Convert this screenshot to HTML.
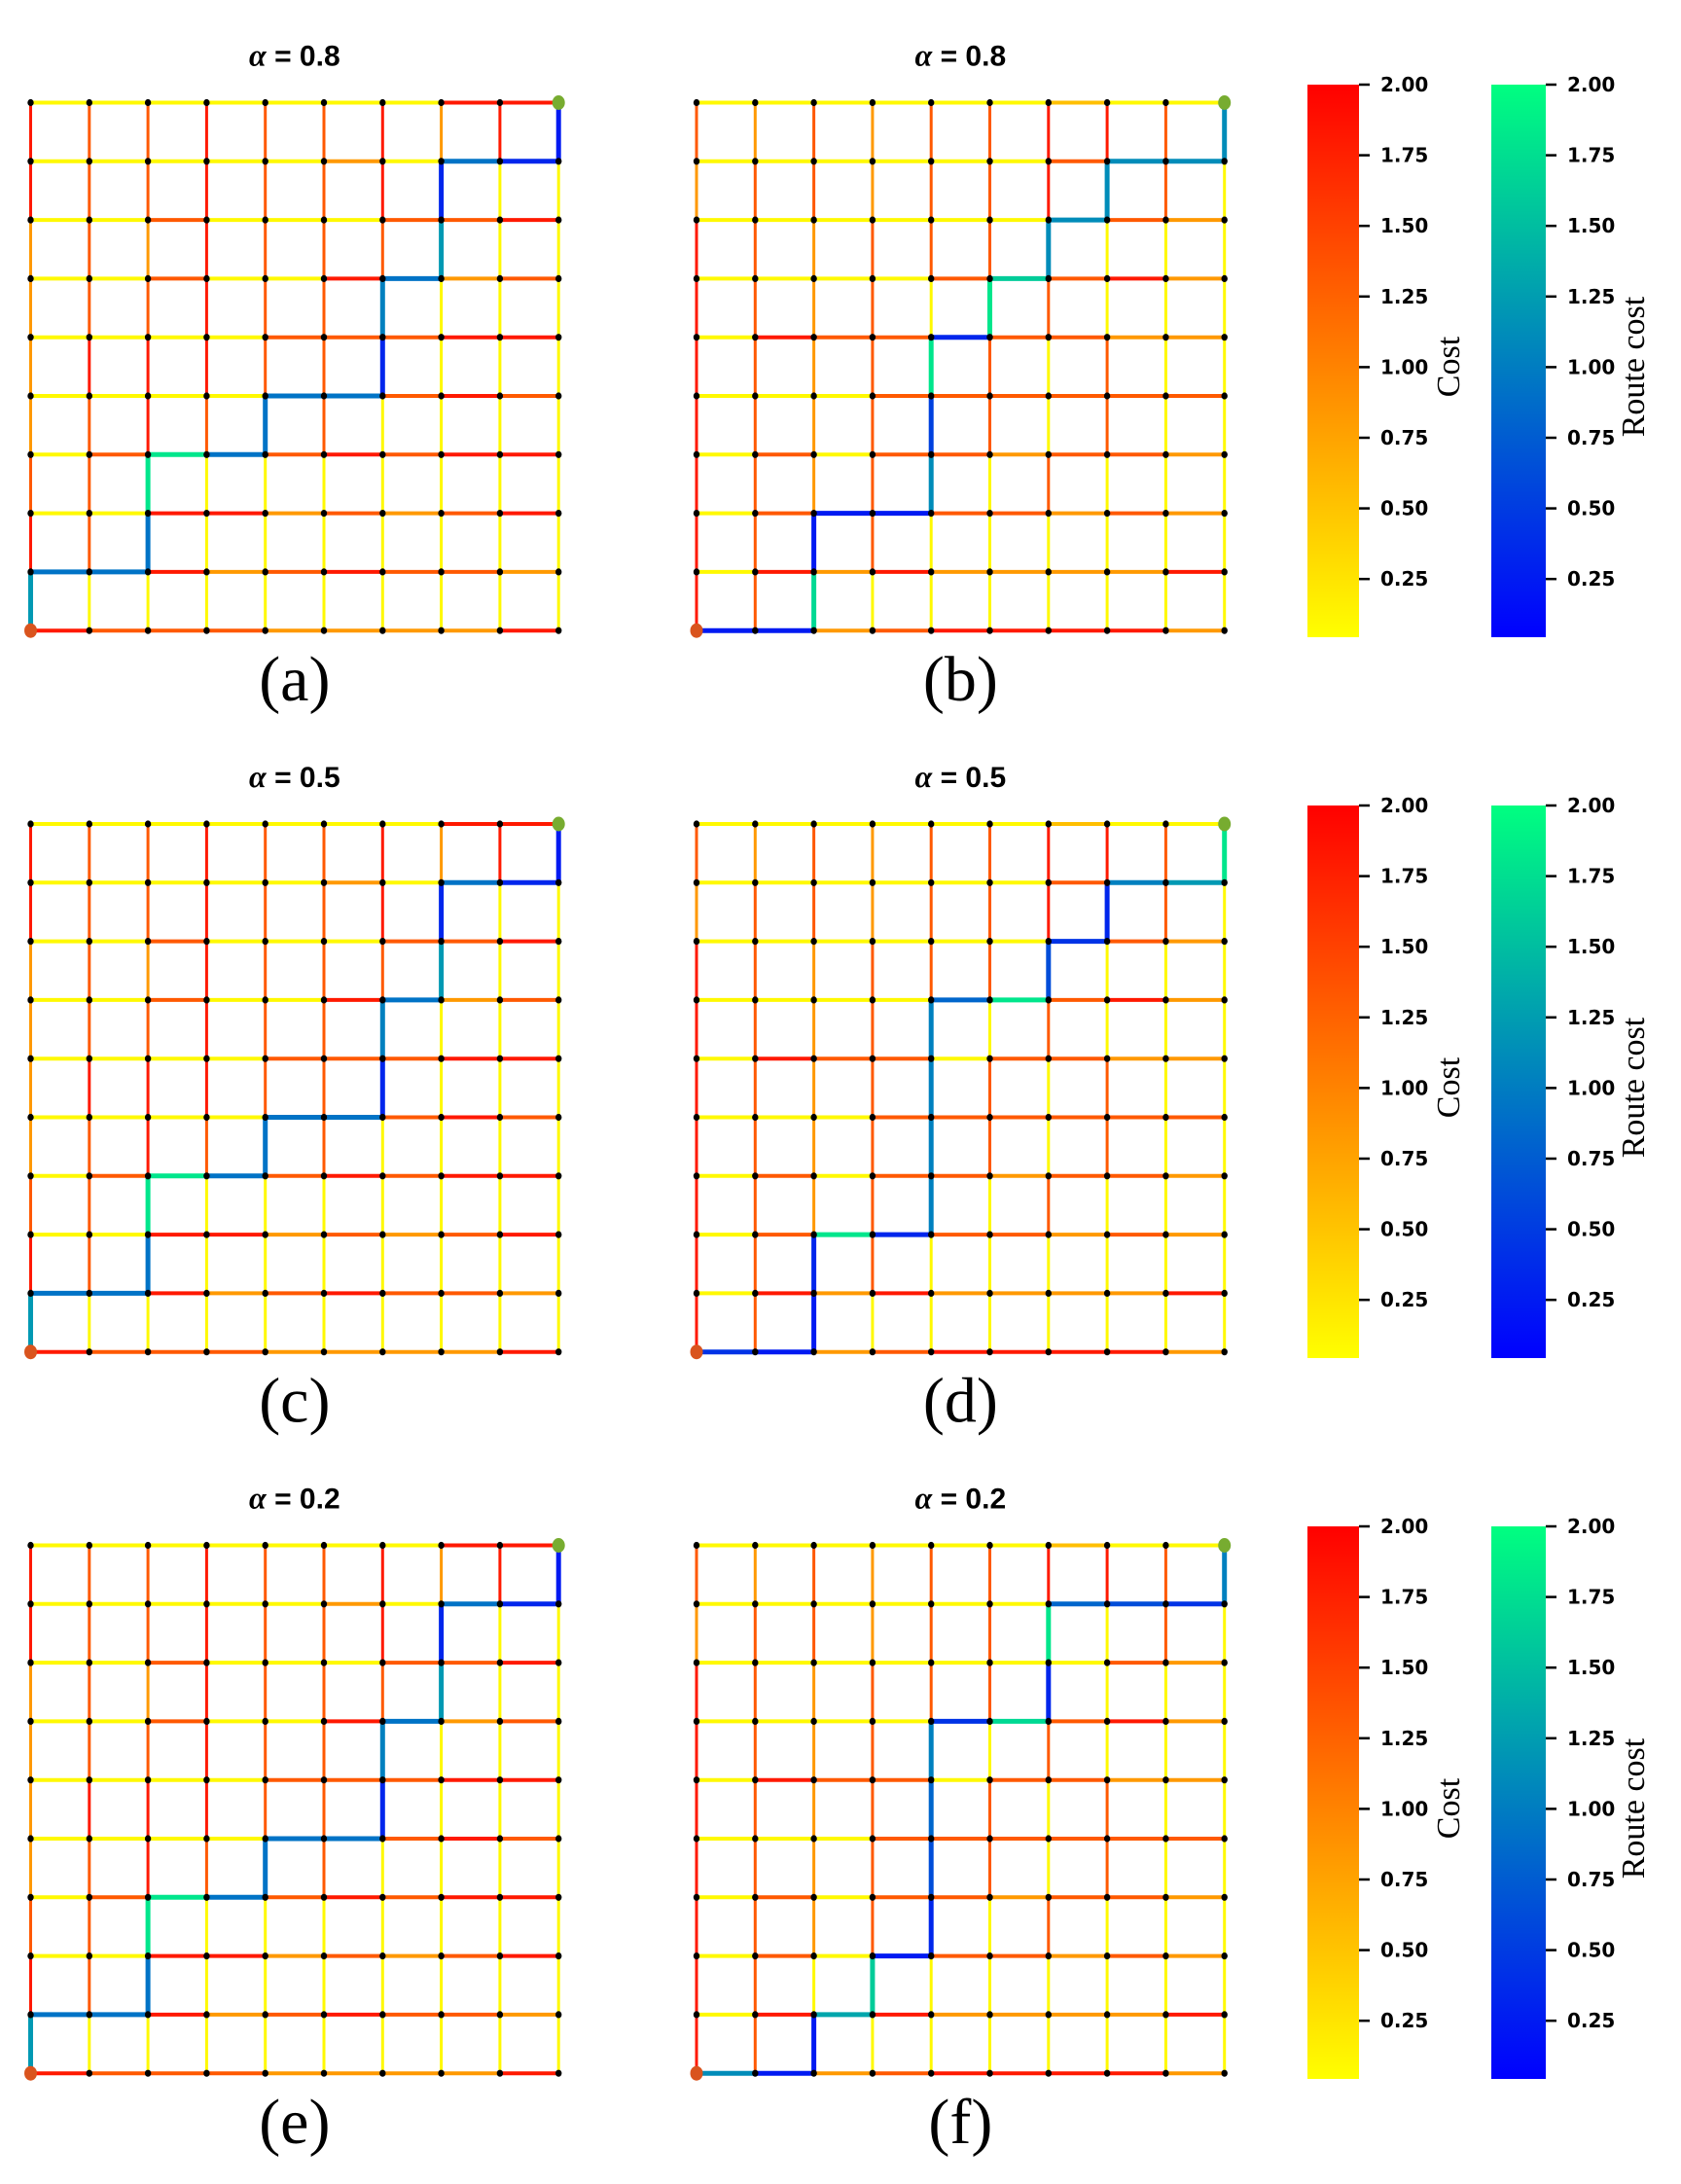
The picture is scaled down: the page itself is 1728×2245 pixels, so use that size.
<!DOCTYPE html>
<html><head><meta charset="utf-8"><style>
html,body{margin:0;padding:0;background:#fff;}
svg{display:block;}
</style></head><body>
<svg id="fig" width="1728" height="2245" viewBox="0 0 1728 2245" xmlns="http://www.w3.org/2000/svg">
<defs>
<linearGradient id="gCost" x1="0" y1="1" x2="0" y2="0">
<stop offset="0" stop-color="#ffff00"/><stop offset="0.5" stop-color="#ff8000"/><stop offset="1" stop-color="#ff0000"/></linearGradient>
<linearGradient id="gRoute" x1="0" y1="1" x2="0" y2="0">
<stop offset="0" stop-color="#0000ff"/><stop offset="1" stop-color="#00ff80"/></linearGradient>
</defs>
</svg>
<script>
// ---- data ----
const alphas = ["0.8","0.8","0.5","0.5","0.2","0.2"];
const panelLabels = ["(a)","(b)","(c)","(d)","(e)","(f)"];
const cbTicks = [0.25,0.5,0.75,1.0,1.25,1.5,1.75,2.0];
const cbTickLabels = ["0.25","0.50","0.75","1.00","1.25","1.50","1.75","2.00"];
const leftH = [
[.05,.05,.05,.05,.05,.05,.05,1.8,1.8],
[.05,.05,.05,.05,.05,.8,.05,.05,.05],
[.05,.05,1.3,.05,.05,.05,1.3,1.3,1.8],
[.05,.05,1.3,.05,.05,1.8,.05,.8,1.3],
[.05,.05,.05,.05,1.3,1.3,1.3,1.8,1.8],
[.05,.05,.05,.05,.05,.05,1.3,1.8,1.3],
[.05,1.3,.05,.05,1.3,1.8,1.3,1.8,1.8],
[.05,.05,1.8,1.8,.8,1.3,.8,1.3,1.8],
[.05,.05,1.8,.8,1.3,1.8,1.3,1.3,.8],
[1.8,1.3,1.3,1.3,.8,.8,.8,.8,1.8]];
const leftV = [
[1.8,1.3,1.3,1.8,1.3,1.3,1.8,.8,1.8,.05],
[1.8,1.3,1.3,1.8,1.3,1.3,1.8,.05,.05,.05],
[.8,1.3,.8,1.8,1.3,1.3,1.3,.05,.05,.05],
[.8,1.3,1.3,1.8,1.3,1.3,.05,.05,.05,.05],
[.8,1.8,1.8,1.8,1.3,1.3,.05,.05,.05,.05],
[.8,1.3,1.8,1.3,.05,1.3,.05,.05,.05,.05],
[1.3,1.3,.05,.05,.05,.05,.05,.05,.05,.05],
[1.8,1.3,.05,.05,.05,.05,.05,.05,.05,.05],
[.05,.05,.05,.05,.05,.05,.05,.05,.05,.05]];
const rightH = [
[.05,.05,.05,.05,.05,.05,.5,.05,.05],
[.05,.05,.05,.05,.05,.05,1.3,.05,.05],
[.05,.05,.05,.05,.05,.05,.05,1.3,.8],
[.05,.05,.05,.05,1.3,.05,1.3,1.8,.8],
[.05,1.8,1.3,1.3,.05,1.3,1.3,.8,.8],
[.05,.05,.05,1.3,1.3,1.3,1.3,1.3,1.3],
[.05,1.3,.05,1.3,1.3,.8,1.3,1.3,.8],
[.05,1.3,.05,.05,1.3,1.3,.8,1.3,.8],
[.05,1.8,.8,1.8,.8,.8,.8,.8,1.8],
[.05,.05,.8,1.3,1.8,1.8,1.8,1.8,.8]];
const rightV = [
[1.3,.8,1.3,.8,1.3,1.3,1.8,1.8,1.3,.05],
[.8,1.3,1.3,.8,1.3,1.3,1.8,.05,1.3,.05],
[1.8,1.3,.8,1.3,1.3,1.3,.05,.05,.05,.05],
[1.8,1.3,.8,1.3,.05,.05,1.3,.05,.05,.05],
[1.8,1.3,.8,1.3,.05,1.3,.05,1.3,.05,.05],
[1.8,1.3,.8,1.3,.05,1.3,.05,1.3,.05,.05],
[1.8,1.3,.8,1.3,.05,.05,1.3,.05,.05,.05],
[1.8,1.3,.05,1.3,.05,.05,.05,.05,.05,.05],
[1.8,1.3,.05,.05,.05,.05,.05,.05,.05,.05]];
const routeA = [["v",8,0,1.2],["h",8,0,0.9],["h",8,1,0.9],["v",7,2,0.9],["v",6,2,1.8],["h",6,2,1.8],["h",6,3,0.9],["v",5,4,0.9],["h",5,4,0.9],["h",5,5,0.9],["v",4,6,0.3],["v",3,6,1.0],["h",3,6,0.9],["v",2,7,1.2],["v",1,7,0.3],["h",1,7,0.9],["h",1,8,0.3],["v",0,9,0.2]];
const routeB = [["h",9,0,0.2],["h",9,1,0.2],["v",8,2,1.7],["v",7,2,0.2],["h",7,2,0.2],["h",7,3,0.2],["v",6,4,1.1],["v",5,4,0.5],["v",4,4,1.8],["h",4,4,0.3],["v",3,5,1.8],["h",3,5,1.6],["v",2,6,1.1],["h",2,6,1.1],["v",1,7,1.1],["h",1,7,1.1],["h",1,8,1.1],["v",0,9,1.1]];
const routeC = routeA;
const routeD = [["h",9,0,0.4],["h",9,1,0.2],["v",8,2,0.2],["v",7,2,0.3],["h",7,2,1.8],["h",7,3,0.3],["v",6,4,1.0],["v",5,4,1.0],["v",4,4,1.0],["v",3,4,1.0],["h",3,4,0.8],["h",3,5,1.8],["v",2,6,0.6],["h",2,6,0.4],["v",1,7,0.3],["h",1,7,1.0],["h",1,8,1.2],["v",0,9,1.8]];
const routeE = routeA;
const routeF = [["h",9,0,1.1],["h",9,1,0.2],["v",8,2,0.2],["h",8,2,1.3],["v",7,3,1.6],["h",7,3,0.2],["v",6,4,0.3],["v",5,4,0.6],["v",4,4,0.8],["v",3,4,1.0],["h",3,4,0.4],["h",3,5,1.7],["v",2,6,0.3],["v",1,6,1.8],["h",1,6,0.8],["h",1,7,0.6],["h",1,8,0.4],["v",0,9,1.0]];
const routes = [routeA,routeB,routeC,routeD,routeE,routeF];

// ---- layout ----
const svg = document.getElementById('fig');
const NS = 'http://www.w3.org/2000/svg';
const colX = [31.5, 716];
const rowY = [105.5, 847, 1588.5];
const step = 60.3;
const cbTop = [87, 828, 1569], cbH = 568;
function costColor(v){const t=Math.max(0,Math.min(1,v/2));return `rgb(255,${Math.round(255*(1-t))},0)`;}
function routeColor(v){const t=Math.max(0,Math.min(1,v/2));return `rgb(0,${Math.round(255*t)},${Math.round(255*(1-t/2))})`;}
function mk(tag, attrs){const e=document.createElementNS(NS,tag);for(const k in attrs)e.setAttribute(k,attrs[k]);return e;}
function cbY(top,v){return top+cbH-(v-0.044)/(2-0.044)*cbH;}

for(let p=0;p<6;p++){
  const col=p%2,row=Math.floor(p/2);
  const x0=colX[col],y0=rowY[row];
  const H=col===0?leftH:rightH, V=col===0?leftV:rightV;
  const g=mk('g',{});
  
  
  svg.appendChild(g);
  const px=c=>x0+c*step, py=r=>y0+r*step;
  for(let r=0;r<9;r++)for(let c=0;c<10;c++){
    const l=mk('line',{x1:px(c),y1:py(r),x2:px(c),y2:py(r+1),stroke:costColor(V[r][c]),'stroke-width':3});
    
    
    g.appendChild(l);
  }
  for(let r=0;r<10;r++)for(let c=0;c<9;c++){
    const l=mk('line',{x1:px(c),y1:py(r),x2:px(c+1),y2:py(r),stroke:costColor(H[r][c]),'stroke-width':4});
    
    
    g.appendChild(l);
  }
  for(const e of routes[p]){
    const [t,r,c,v]=e;
    const a=t==='h'?{x1:px(c),y1:py(r),x2:px(c+1),y2:py(r)}:{x1:px(c),y1:py(r),x2:px(c),y2:py(r+1)};
    a.stroke=routeColor(v);a['stroke-width']=5;
    const l=mk('line',a);
    
    
    g.appendChild(l);
  }
  for(let r=0;r<10;r++)for(let c=0;c<10;c++){
    if((r===9&&c===0)||(r===0&&c===9))continue;
    const n=mk('ellipse',{cx:px(c),cy:py(r),rx:3.2,ry:3.6,fill:'#000'});
    
    
    g.appendChild(n);
  }
  const s=mk('ellipse',{cx:px(0),cy:py(9),rx:6.5,ry:7.5,fill:'#d9541e'});
  
  
  g.appendChild(s);
  const t=mk('ellipse',{cx:px(9),cy:py(0),rx:6.5,ry:7.5,fill:'#77ac30'});
  
  
  g.appendChild(t);
  const ti=mk('text',{x:x0+4.5*step,y:y0-38,'text-anchor':'middle','font-family':'"Liberation Sans", "DejaVu Sans", sans-serif','font-size':30,'font-weight':'bold'});
  ti.innerHTML='<tspan font-style="italic" font-family="Liberation Serif, serif" font-size="32">α</tspan> = '+alphas[p];
  
  
  g.appendChild(ti);
  const lb=mk('text',{x:x0+4.5*step,y:y0+9*step+72,'text-anchor':'middle','font-family':'"Liberation Serif", serif','font-size':66});
  lb.textContent=panelLabels[p];
  
  
  g.appendChild(lb);
}
for(let row=0;row<3;row++){
  const top=cbTop[row];
  const specs=[{x:1344,w:53,grad:'gCost',title:'Cost',tx:1492,name:'cost-colorbar'},{x:1533,w:56,grad:'gRoute',title:'Route cost',tx:1682,name:'route-cost-colorbar'}];
  for(const s of specs){
    const g=mk('g',{});
    
    
    svg.appendChild(g);
    g.appendChild(mk('rect',{x:s.x,y:top,width:s.w,height:cbH,fill:'url(#'+s.grad+')'}));
    cbTicks.forEach((v,i)=>{
      const y=cbY(top,v);
      g.appendChild(mk('line',{x1:s.x+s.w,y1:y,x2:s.x+s.w+11,y2:y,stroke:'#000','stroke-width':2.5}));
      const tx=mk('text',{x:s.x+s.w+22,y:y+7,'font-family':'"DejaVu Sans", sans-serif','font-weight':'bold','font-size':20});
      tx.textContent=cbTickLabels[i];
      
      
      g.appendChild(tx);
    });
    const cy=top+290;
    const tt=mk('text',{x:s.tx,y:cy,'text-anchor':'middle','font-family':'"Liberation Serif", serif','font-size':34,transform:`rotate(-90 ${s.tx} ${cy})`,'dominant-baseline':'middle'});
    tt.textContent=s.title;
    
    
    g.appendChild(tt);
  }
}
</script>
</body></html>
